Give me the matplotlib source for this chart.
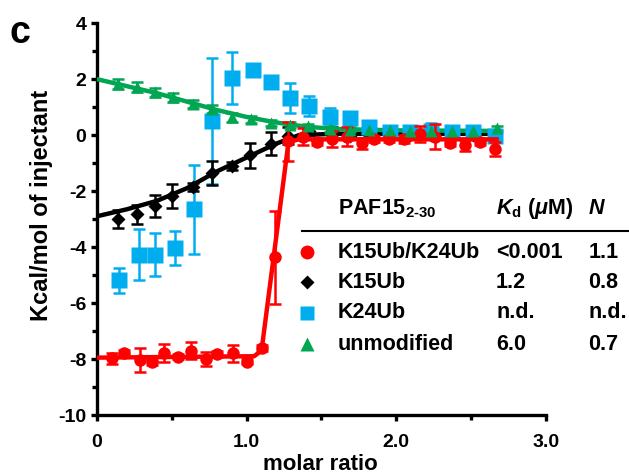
import numpy as np
import matplotlib
matplotlib.use("Agg")
import matplotlib.pyplot as plt
from matplotlib.ticker import MultipleLocator

plt.rcParams['font.family'] = ['Liberation Sans', 'DejaVu Sans']
plt.rcParams['font.weight'] = 'bold'
plt.rcParams['axes.unicode_minus'] = False
plt.rcParams['mathtext.fontset'] = 'custom'
plt.rcParams['mathtext.rm'] = 'Liberation Sans:bold'
plt.rcParams['mathtext.it'] = 'Liberation Sans:italic:bold'
plt.rcParams['mathtext.bf'] = 'Liberation Sans:bold'

# K15Ub/K24Ub (red circles)
red_x = [0.10, 0.18, 0.29, 0.37, 0.45, 0.54, 0.63, 0.73, 0.80, 0.91, 1.00, 1.10, 1.19, 1.28,
         1.38, 1.47, 1.57, 1.67, 1.77, 1.85, 1.95, 2.05, 2.16, 2.26, 2.36, 2.46, 2.56, 2.66]
red_y = [-7.97, -7.79, -8.03, -8.12, -7.79, -7.91, -7.70, -8.00, -7.81, -7.79, -8.09, -7.60, -4.37, -0.22,
         -0.05, -0.26, -0.14, -0.05, -0.29, -0.14, -0.14, -0.14, 0.04, -0.05, -0.29, -0.36, -0.24, -0.50]
red_err = [0.20, 0.10, 0.43, 0.10, 0.33, 0.10, 0.30, 0.25, 0.10, 0.30, 0.10, 0.10, 1.65, 0.70,
           0.30, 0.10, 0.27, 0.35, 0.20, 0.10, 0.10, 0.15, 0.30, 0.45, 0.10, 0.20, 0.10, 0.26]
red_fit_x = [0.0, 1.05, 1.10, 1.28, 1.35, 2.67]
red_fit_y = [-7.95, -7.90, -7.70, -0.25, -0.15, -0.15]

# K15Ub (black diamonds)
black_x = [0.14, 0.27, 0.39, 0.50, 0.64, 0.77, 0.90, 1.02, 1.16, 1.28, 1.42, 1.57, 1.69, 1.82,
           1.96, 2.09, 2.23, 2.37, 2.51, 2.66]
black_y = [-3.01, -2.83, -2.53, -2.19, -1.86, -1.36, -1.10, -0.72, -0.30, -0.02, 0.15, 0.15, -0.02, 0.0,
           0.0, 0.0, 0.0, 0.0, 0.0, 0.0]
black_err = [0.32, 0.33, 0.40, 0.43, 0.15, 0.43, 0.15, 0.45, 0.42, 0.30, 0.15, 0.15, 0.10, 0.10,
             0.10, 0.10, 0.10, 0.10, 0.10, 0.10]
black_fit_x = [0.0, 0.2, 0.4, 0.6, 0.8, 1.0, 1.2, 1.35, 1.6, 2.67]
black_fit_y = [-2.90, -2.65, -2.35, -1.90, -1.30, -0.80, -0.30, 0.00, 0.05, 0.05]

# K24Ub (blue squares)
blue_x = [0.15, 0.28, 0.39, 0.52, 0.65, 0.77, 0.90, 1.04, 1.16, 1.29, 1.42, 1.56, 1.69, 1.82,
          1.96, 2.09, 2.23, 2.37, 2.51, 2.66]
blue_y = [-5.19, -4.27, -4.27, -4.03, -2.65, 0.51, 2.04, 2.34, 1.89, 1.33, 1.05, 0.63, 0.60, 0.28,
          0.10, 0.10, 0.15, 0.10, 0.10, -0.02]
blue_err = [0.45, 0.90, 0.78, 0.62, 1.60, 2.25, 0.93, 0.05, 0.05, 0.54, 0.36, 0.35, 0.10, 0.10,
            0.10, 0.10, 0.30, 0.10, 0.10, 0.10]

# unmodified (green triangles)
green_x = [0.14, 0.27, 0.39, 0.51, 0.64, 0.77, 0.90, 1.03, 1.16, 1.29, 1.41, 1.56, 1.69, 1.82,
           1.96, 2.09, 2.23, 2.37, 2.51, 2.67]
green_y = [1.83, 1.71, 1.53, 1.35, 1.11, 0.93, 0.63, 0.57, 0.43, 0.36, 0.31, 0.22, 0.20, 0.18,
           0.17, 0.16, 0.16, 0.15, 0.15, 0.24]
green_err = [0.18, 0.18, 0.15, 0.15, 0.15, 0.15, 0.15, 0.12, 0.10, 0.10, 0.10, 0.10, 0.10, 0.10,
             0.10, 0.10, 0.10, 0.10, 0.10, 0.10]
green_fit_x = [0.0, 0.2, 0.4, 0.6, 0.8, 1.0, 1.2, 1.4, 1.6, 2.0, 2.67]
green_fit_y = [2.00, 1.75, 1.50, 1.20, 0.90, 0.65, 0.45, 0.30, 0.22, 0.17, 0.15]

RED = '#FF0000'
BLUE = '#00AEEF'
GREEN = '#00A651'
BLACK = '#000000'

fig = plt.figure(figsize=(6.29, 4.73), dpi=100)
ax = fig.add_axes([0.154, 0.1226, 0.714, 0.8284])

eb = dict(fmt='none', elinewidth=1.8, capsize=4.3, capthick=1.8)

# blue (no fit line)
ax.errorbar(blue_x, blue_y, yerr=blue_err, ecolor=BLUE, zorder=1, **eb)
ax.plot(blue_x, blue_y, 's', color=BLUE, ms=11, mec='none', zorder=3.5)

# black
ax.errorbar(black_x, black_y, yerr=black_err, ecolor=BLACK, zorder=2, **eb)
ax.plot(black_fit_x, black_fit_y, '-', color=BLACK, lw=3.2, zorder=2)
ax.plot(black_x, black_y, 'D', color=BLACK, ms=7.5, mec='none', zorder=2.5)

# green
ax.errorbar(green_x, green_y, yerr=green_err, ecolor=GREEN, zorder=3, **eb)
ax.plot(green_fit_x, green_fit_y, '-', color=GREEN, lw=3.2, zorder=3)
ax.plot(green_x, green_y, '^', color=GREEN, ms=9, mec='none', zorder=5)

# red
ax.errorbar(red_x, red_y, yerr=red_err, ecolor=RED, zorder=4, **eb)
ax.plot(red_fit_x, red_fit_y, '-', color=RED, lw=3.2, zorder=4)
ax.plot(red_x, red_y, 'o', color=RED, ms=9, mec='none', zorder=4.5)

ax.set_xlim(0, 3.0)
ax.set_ylim(-10, 4)
ax.set_xticks([0, 1.0, 2.0, 3.0])
ax.set_xticklabels(['0', '1.0', '2.0', '3.0'])
ax.set_yticks(np.arange(-10, 5, 2))
ax.xaxis.set_minor_locator(MultipleLocator(0.5))
ax.yaxis.set_minor_locator(MultipleLocator(1))
for s in ['top', 'right']:
    ax.spines[s].set_visible(False)
for s in ['left', 'bottom']:
    ax.spines[s].set_linewidth(2.4)
ax.tick_params(which='major', length=4.5, width=2.4, labelsize=14, direction='out')
ax.tick_params(axis='x', which='major', pad=9)
ax.tick_params(axis='y', which='major', pad=3)
ax.tick_params(which='minor', length=3.5, width=2.4, direction='out')
for lab in ax.get_xticklabels() + ax.get_yticklabels():
    lab.set_fontweight('bold')

fig.text(320 / 629, 1 - 464 / 473, 'molar ratio', fontsize=16, fontweight='bold',
         ha='center', va='center')
fig.text(42 / 629, 1 - 205 / 473, 'Kcal/mol of injectant', fontsize=17, fontweight='bold',
         rotation=90, ha='center', va='center')

fig.text(20 / 629, 1 - 33 / 473, 'c', fontsize=27, fontweight='bold', ha='center', va='center')

# table legend
tr = ax.transAxes
col_name, col_kd, col_n, col_mk = 0.537, 0.889, 1.094, 0.468
fs = 15.5
ax.text(col_name, 0.526, r'PAF15$_{\mathrm{2\text{-}30}}$', transform=tr, fontsize=fs,
        fontweight='bold', va='center', ha='left')
ax.text(col_kd, 0.526, r'$K_{\mathrm{d}}$ ($\mu$M)', transform=tr, fontsize=fs,
        fontweight='bold', va='center', ha='left')
ax.text(col_n, 0.526, 'N', transform=tr, fontsize=fs, fontweight='bold',
        fontstyle='italic', va='center', ha='left', clip_on=False)
ax.plot([0.456, 1.185], [0.470, 0.470], color=BLACK, lw=1.5, transform=tr, clip_on=False)

names = ['K15Ub/K24Ub', 'K15Ub', 'K24Ub', 'unmodified']
kd_vals = ['<0.001', '1.2', 'n.d.', '6.0']
n_vals = ['1.1', '0.8', 'n.d.', '0.7']
row_y = [0.415, 0.339, 0.261, 0.181]
markers = [('o', RED, 10), ('D', BLACK, 7), ('s', BLUE, 10), ('^', GREEN, 10)]
for name, kd, n, y, (m, c, ms) in zip(names, kd_vals, n_vals, row_y, markers):
    ax.plot([col_mk], [y], m, color=c, ms=ms, mec='none', transform=tr, clip_on=False)
    ax.text(col_name, y, name, transform=tr, fontsize=fs, fontweight='bold', va='center', ha='left')
    ax.text(col_kd, y, kd, transform=tr, fontsize=fs, fontweight='bold', va='center', ha='left')
    ax.text(col_n, y, n, transform=tr, fontsize=fs, fontweight='bold', va='center', ha='left',
            clip_on=False)

fig.savefig('out.png', dpi=100)
